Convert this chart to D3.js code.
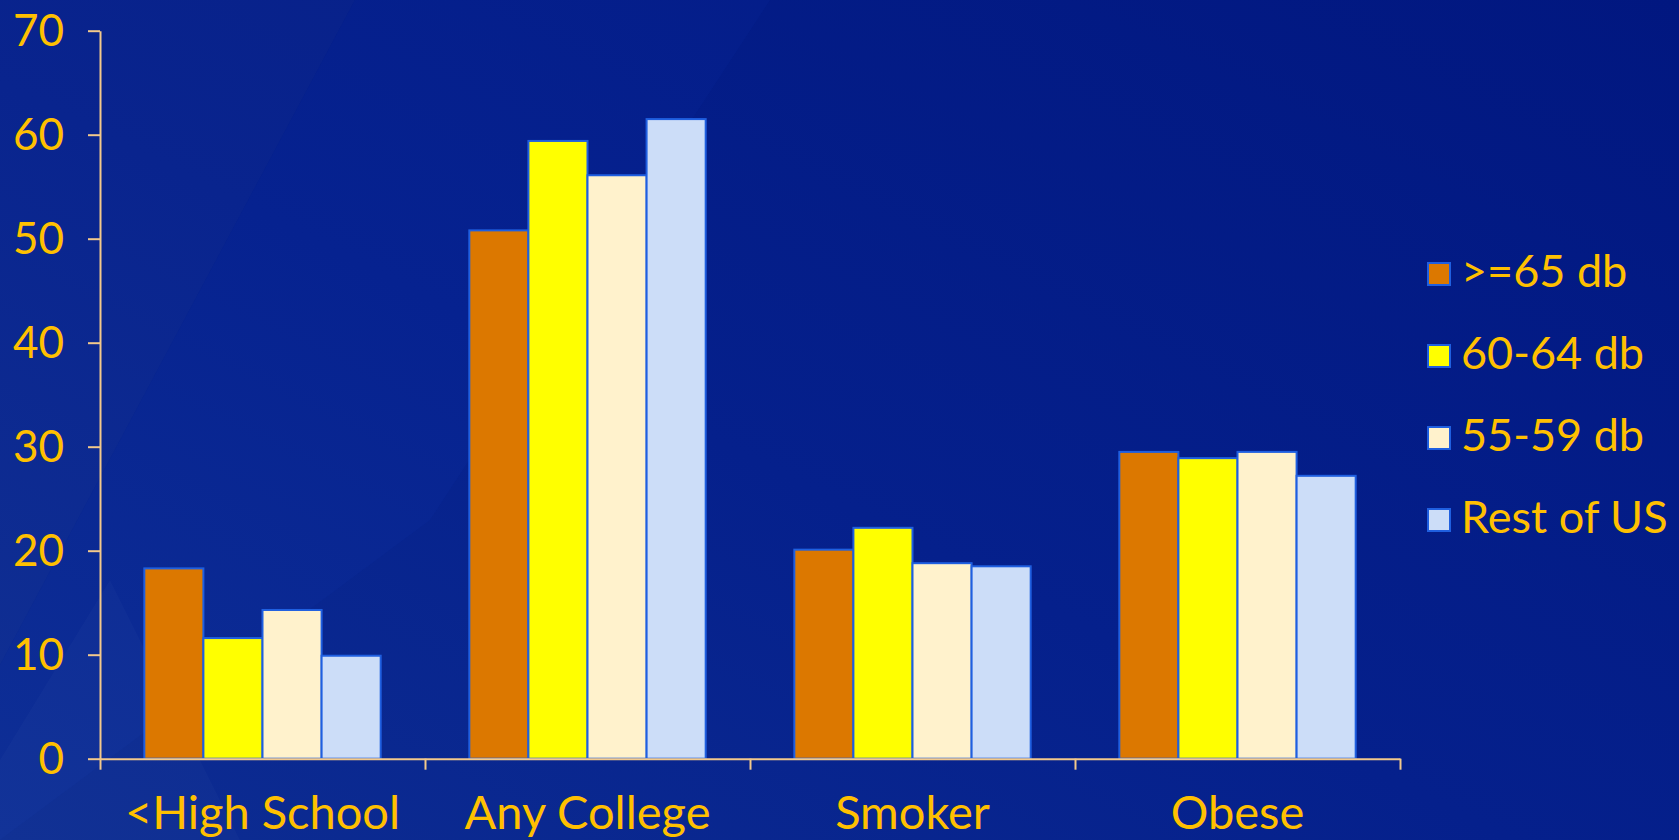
<!DOCTYPE html>
<html>
<head>
<meta charset="utf-8">
<script src="https://cdn.jsdelivr.net/npm/d3@7/dist/d3.min.js"></script>
<style>
  html, body { margin: 0; padding: 0; background: #031a86; }
  svg { display: block; }
  text { font-family: Lato, "Noto Sans", sans-serif; fill: #ffc000; }
</style>
</head>
<body>
<svg id="chart" width="1679" height="840"></svg>
<script>
// Share of residents by noise exposure band (%)
const categories = ["<High School", "Any College", "Smoker", "Obese"];
const seriesNames = [">=65 db", "60-64 db", "55-59 db", "Rest of US"];
const seriesColors = ["#dc7800", "#ffff00", "#fff2cc", "#ccddf8"];
const ge65 = [18.3, 50.8, 20.1, 29.5];
const db60to64 = [11.6, 59.4, 22.2, 28.9];
const db55to59 = [14.3, 56.1, 18.8, 29.5];
const restOfUS = [9.9, 61.5, 18.5, 27.2];
const yTicks = [0, 10, 20, 30, 40, 50, 60, 70];

const seriesValues = [ge65, db60to64, db55to59, restOfUS];

const W = 1679, H = 840;
const svg = d3.select("#chart");

// Background: deep blue with a lighter left side and soft diagonal sheen
const defs = svg.append("defs");
const bg = defs.append("linearGradient").attr("id", "bg")
  .attr("x1", "0").attr("y1", "1").attr("x2", "1").attr("y2", "0");
bg.append("stop").attr("offset", "0").attr("stop-color", "#0d2d92");
bg.append("stop").attr("offset", "0.45").attr("stop-color", "#05208c");
bg.append("stop").attr("offset", "1").attr("stop-color", "#011780");
svg.append("rect").attr("width", W).attr("height", H).attr("fill", "url(#bg)");
svg.append("path").attr("d", "M0,0 L355,0 L0,665 Z").attr("fill", "#ffffff").attr("opacity", 0.02);
svg.append("path").attr("d", "M355,0 L770,0 L430,520 L0,840 L0,665 Z").attr("fill", "#3a66ff").attr("opacity", 0.04);
svg.append("path").attr("d", "M0,840 L0,760 L110,580 L240,840 Z").attr("fill", "#ffffff").attr("opacity", 0.02);

const margin = { left: 100, top: 30.7, right: 279, bottom: 81.3 };
const plotW = 1300, plotH = 728;

const g = svg.append("g").attr("transform", `translate(${margin.left},${margin.top})`);

const y = d3.scaleLinear().domain([0, 70]).range([plotH, 0]);
const x0 = d3.scaleBand().domain(categories).range([0, plotW]).padding(0);
const x1 = d3.scaleBand().domain(seriesNames).range([0, x0.bandwidth()]).paddingInner(0).paddingOuter(0.75);
const color = d3.scaleOrdinal().domain(seriesNames).range(seriesColors);

// Bars
const groups = g.selectAll("g.cat").data(categories).join("g")
  .attr("class", "cat")
  .attr("transform", d => `translate(${x0(d)},0)`);

groups.selectAll("rect").data((c, ci) => seriesNames.map((s, si) => ({ s, v: seriesValues[si][ci] })))
  .join("rect")
  .attr("x", d => x1(d.s))
  .attr("y", d => y(d.v))
  .attr("width", x1.bandwidth())
  .attr("height", d => plotH - y(d.v))
  .attr("fill", d => color(d.s))
  .attr("stroke", "#1f5fe0")
  .attr("stroke-width", 2);

const axisColor = "#f3c98b";

// Y axis
const yAxis = g.append("g")
  .call(d3.axisLeft(y).tickValues(yTicks).tickSize(12).tickSizeOuter(0).tickPadding(24));
yAxis.select(".domain").attr("stroke", axisColor).attr("stroke-width", 2);
yAxis.selectAll(".tick line").attr("stroke", axisColor).attr("stroke-width", 2);
yAxis.selectAll(".tick text")
  .attr("fill", "#ffc000").attr("font-size", 44).attr("font-family", "Lato, 'Noto Sans', sans-serif")
  .attr("dy", "0.34em");

// X axis: baseline with tick marks at category boundaries
const xb = d3.scaleLinear().domain([0, categories.length]).range([0, plotW]);
const xAxis = g.append("g").attr("transform", `translate(0,${plotH})`)
  .call(d3.axisBottom(xb).tickValues(d3.range(categories.length + 1)).tickSize(11).tickSizeOuter(0).tickFormat(""));
xAxis.select(".domain").attr("stroke", axisColor).attr("stroke-width", 2);
xAxis.selectAll(".tick line").attr("stroke", axisColor).attr("stroke-width", 2);

// Category labels
g.append("g").selectAll("text").data(categories).join("text")
  .attr("x", d => x0(d) + x0.bandwidth() / 2)
  .attr("y", plotH + 70)
  .attr("text-anchor", "middle")
  .attr("font-size", 47)
  .text(d => d);

// Legend
const legend = svg.append("g").attr("transform", "translate(1428,263)");
const items = legend.selectAll("g").data(seriesNames).join("g")
  .attr("transform", (d, i) => `translate(0,${i * 82})`);
items.append("rect")
  .attr("width", 22).attr("height", 22)
  .attr("fill", d => color(d))
  .attr("stroke", "#1f5fe0").attr("stroke-width", 2);
items.append("text")
  .attr("x", 33).attr("y", 24)
  .attr("font-size", 45)
  .text(d => d);
</script>
</body>
</html>
